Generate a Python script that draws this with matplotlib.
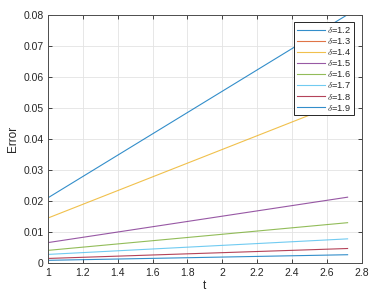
import numpy as np
import matplotlib
matplotlib.use("Agg")
import matplotlib.pyplot as plt
from matplotlib.ticker import FixedLocator, FixedFormatter

plt.rcParams['font.family'] = ['Liberation Sans', 'DejaVu Sans']
plt.rcParams['mathtext.fontset'] = 'cm'

t = [1.0, np.e]
deltas = ["1.2", "1.3", "1.4", "1.5", "1.6", "1.7", "1.8", "1.9"]
err_12 = [0.0211, 0.0800]
err_13 = [0.0950, 0.2500]
err_14 = [0.0146, 0.0525]
err_15 = [0.0067, 0.0213]
err_16 = [0.0042, 0.0131]
err_17 = [0.0029, 0.0079]
err_18 = [0.0016, 0.0048]
err_19 = [0.0010, 0.0028]
series = [err_12, err_13, err_14, err_15, err_16, err_17, err_18, err_19]
colors = ["#0072BD", "#D95319", "#EDB120", "#7E2F8E", "#77AC30", "#4DBEEE", "#A2142F", "#0072BD"]

xticks = [1, 1.2, 1.4, 1.6, 1.8, 2, 2.2, 2.4, 2.6, 2.8]
xticklabels = ["1", "1.2", "1.4", "1.6", "1.8", "2", "2.2", "2.4", "2.6", "2.8"]
yticks = [0, 0.01, 0.02, 0.03, 0.04, 0.05, 0.06, 0.07, 0.08]
yticklabels = ["0", "0.01", "0.02", "0.03", "0.04", "0.05", "0.06", "0.07", "0.08"]

fig = plt.figure(figsize=(3.87, 2.98), dpi=100)
ax = fig.add_axes([0.124, 0.116, 0.811, 0.835])

for d, s, c in zip(deltas, series, colors):
    ax.plot(t, s, color=c, lw=0.8, alpha=0.8, label=r"$\delta$=" + d)

ax.set_xlim(1, 2.8)
ax.set_ylim(0, 0.08)
ax.xaxis.set_major_locator(FixedLocator(xticks))
ax.xaxis.set_major_formatter(FixedFormatter(xticklabels))
ax.yaxis.set_major_locator(FixedLocator(yticks))
ax.yaxis.set_major_formatter(FixedFormatter(yticklabels))
ax.grid(True, color="#e3e3e3", lw=0.6)
ax.set_axisbelow(True)
ax.tick_params(direction='in', top=True, right=True, labelsize=7.5, colors="#262626",
               length=3, width=0.6, pad=3)
for sp in ax.spines.values():
    sp.set_color("#4d4d4d")
    sp.set_linewidth(0.7)
ax.set_xlabel("t", fontsize=8.5, color="#262626", labelpad=2)
ax.set_ylabel("Error", fontsize=8.5, color="#262626", labelpad=3)

leg = ax.legend(loc="upper right", bbox_to_anchor=(0.976, 0.97), fontsize=6.7,
                frameon=True, fancybox=False, edgecolor="#262626", framealpha=1,
                handlelength=3.0, handletextpad=0.3, labelspacing=0.12,
                borderpad=0.3, borderaxespad=0.0)
leg.get_frame().set_linewidth(0.7)
for txt in leg.get_texts():
    txt.set_color("#262626")

fig.savefig("out.png", dpi=100)
